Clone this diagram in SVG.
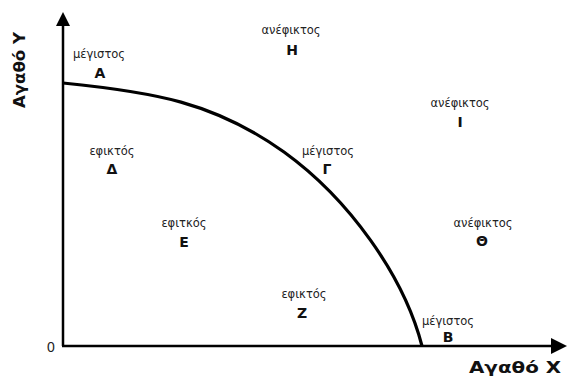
<svg xmlns="http://www.w3.org/2000/svg" width="568" height="378" viewBox="0 0 568 378">
<style>
.s{font-family:"DejaVu Sans","Liberation Sans",sans-serif;font-size:11.5px;fill:#222;text-anchor:middle}
.b{font-family:"DejaVu Sans","Liberation Sans",sans-serif;font-size:14px;font-weight:bold;fill:#111;text-anchor:middle}
.ax{font-family:"DejaVu Sans","Liberation Sans",sans-serif;font-size:15px;font-weight:bold;fill:#111}
.z{font-family:"Liberation Sans",sans-serif;font-size:14px;fill:#222}
</style>
<rect width="568" height="378" fill="#fff"/>
<g id="connectors" fill="none" stroke="#000">
<line x1="63" y1="346" x2="63" y2="24" stroke-width="2.5"/>
<polygon points="63,12 56,26 70,26" fill="#000" stroke="none"/>
<line x1="62" y1="346" x2="552" y2="346" stroke-width="2.5"/>
<polygon points="567,346 551,338 551,354" fill="#000" stroke="none"/>
<path d="M63,83 C153,92 214,102 284,152 C349,199 404,276 422,346" stroke-width="3.2"/>
</g>
<g id="axes-labels">
<text class="ax" transform="translate(25,70) rotate(-90)" text-anchor="middle" textLength="76" lengthAdjust="spacingAndGlyphs">Αγαθό Υ</text>
<text class="ax" x="469" y="373" textLength="92" lengthAdjust="spacingAndGlyphs">Αγαθό X</text>
<text class="z" x="47" y="352">0</text>
</g>
<g id="A"><text class="s" x="99" y="58">μέγιστος</text><text class="b" x="100" y="78">Α</text></g>
<g id="H"><text class="s" x="291" y="34">ανέφικτος</text><text class="b" x="292" y="55">Η</text></g>
<g id="I"><text class="s" x="460" y="107">ανέφικτος</text><text class="b" x="460" y="127">Ι</text></g>
<g id="D"><text class="s" x="112" y="155">εφικτός</text><text class="b" x="112" y="174">Δ</text></g>
<g id="G"><text class="s" x="328" y="155">μέγιστος</text><text class="b" x="327" y="174">Γ</text></g>
<g id="E"><text class="s" x="184" y="227">εφιτκός</text><text class="b" x="184" y="247">Ε</text></g>
<g id="TH"><text class="s" x="483" y="227">ανέφικτος</text><text class="b" x="482" y="246">Θ</text></g>
<g id="Z"><text class="s" x="304" y="298">εφικτός</text><text class="b" x="302" y="318">Ζ</text></g>
<g id="B"><text class="s" x="448" y="325">μέγιστος</text><text class="b" x="448" y="342">Β</text></g>
</svg>
